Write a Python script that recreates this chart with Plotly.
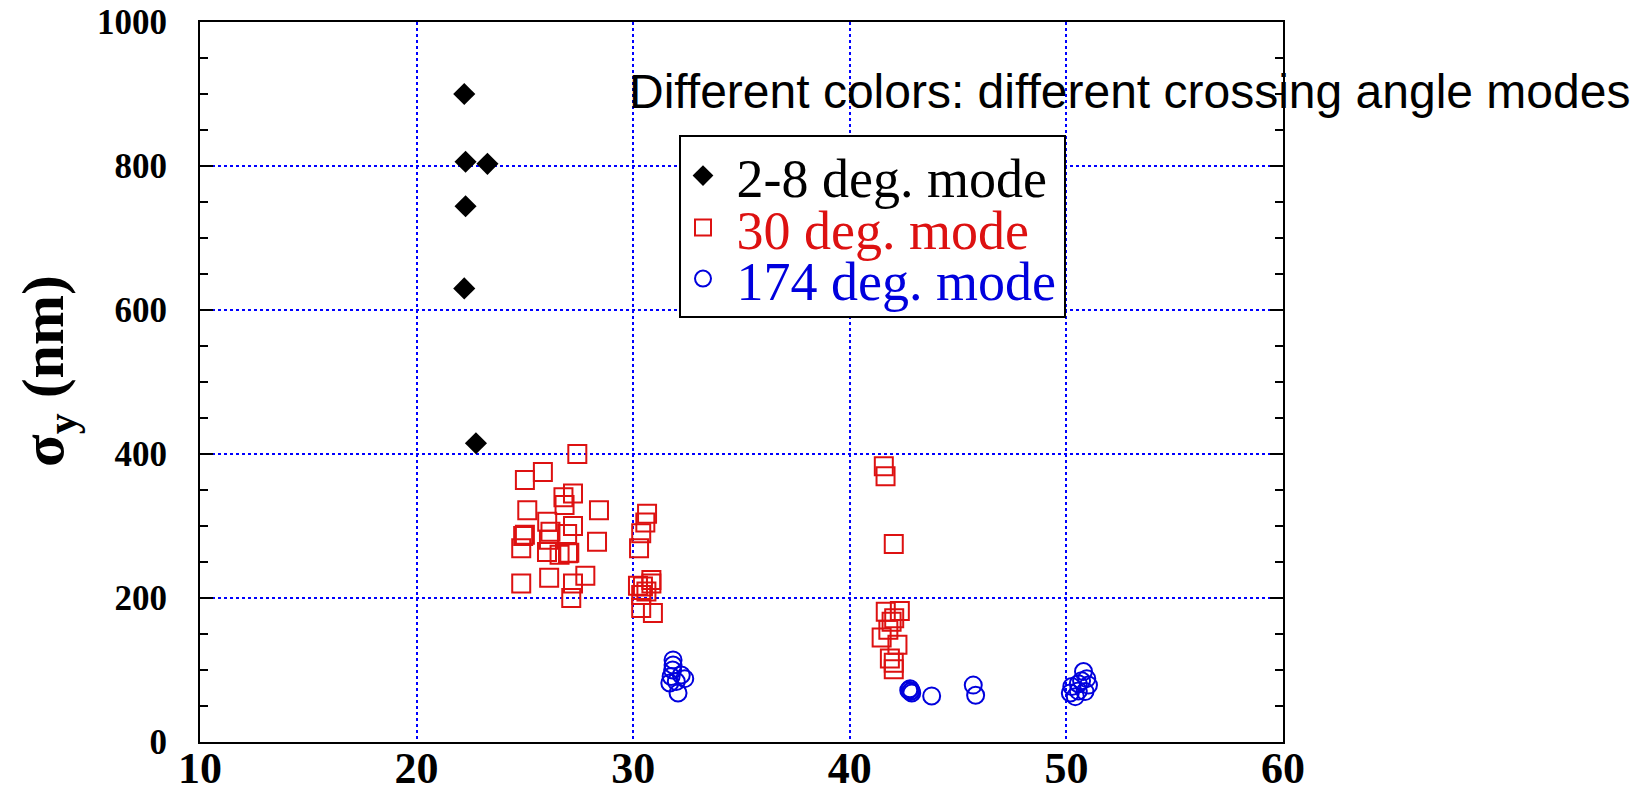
import plotly.graph_objects as go

# 2-8 degree crossing-angle mode
x_2_8 = [22.20, 22.26, 23.27, 22.26, 22.20, 22.74]
y_2_8 = [900, 806, 803, 744, 630, 415]

# 30 degree crossing-angle mode
x_30 = [27.42, 25.83, 25.00, 26.78, 27.22, 26.83, 25.11, 28.42, 26.03, 27.22,
        25.00, 24.92, 26.18, 26.95, 26.11, 28.33, 24.83, 26.02, 26.60, 26.99,
        27.05, 24.83, 26.12, 27.22, 27.79, 27.14,
        30.64, 30.56, 30.37, 30.27, 30.22, 30.84, 30.45, 30.61, 30.37, 30.91,
        30.37, 30.84,
        41.57, 41.65, 42.03, 41.66, 42.31, 42.05, 41.93, 41.78, 41.47, 42.20,
        41.85, 42.03, 42.03]
y_30 = [400, 375, 364, 340, 345, 329, 322, 322, 306, 300,
        288, 286, 292, 289, 281, 278, 269, 264, 260, 262,
        263, 220, 228, 220, 231, 200,
        317, 305, 290, 269, 217, 225, 216, 209, 186, 179,
        204, 220,
        383, 369, 275, 181, 182, 172, 167, 156, 145, 135,
        116, 110, 101]

# 174 degree crossing-angle mode
x_174 = [31.84, 31.84, 31.82, 31.75, 32.22, 31.99, 31.69, 32.07, 32.38,
         42.72, 42.80, 42.86, 42.78, 42.84, 43.78, 45.70, 45.81,
         50.79, 50.94, 51.02, 50.55, 50.25, 50.86, 50.18, 50.41, 50.55, 50.70]
y_174 = [114, 107, 100, 91, 93, 84, 82, 68, 88,
         72, 70, 68, 74, 71, 64, 79, 65,
         98, 88, 79, 81, 77, 70, 68, 63, 71, 85]

x_ticks = [10, 20, 30, 40, 50, 60]
y_ticks = [0, 200, 400, 600, 800, 1000]

W, H = 1646, 792
L, R, T, B = 200, 363, 22, 50
PW, PH = W - L - R, H - T - B


def px_x(p):
    return (p - L) / PW


def px_y(p):
    return (H - B - p) / PH


SERIF = "Liberation Serif"
SANS = "Liberation Sans"
RED = "#dd1111"
BLUE = "#0000dd"
NB = "\u00a0"

fig = go.Figure()
fig.add_trace(go.Scatter(
    x=x_2_8, y=y_2_8, mode="markers", name=NB + "2-8 deg. mode",
    marker=dict(symbol="diamond", size=17, color="black"),
    legend="legend"))
fig.add_trace(go.Scatter(
    x=x_30, y=y_30, mode="markers", name=NB + "30 deg. mode",
    marker=dict(symbol="square-open", size=18, color=RED, line=dict(width=2, color=RED)),
    legend="legend2"))
fig.add_trace(go.Scatter(
    x=x_174, y=y_174, mode="markers", name=NB + "174 deg. mode",
    marker=dict(symbol="circle-open", size=17, color=BLUE, line=dict(width=2, color=BLUE)),
    legend="legend3"))

grid = dict(showgrid=True, gridcolor="#0000ff", gridwidth=2, griddash="dot",
            zeroline=False, showline=True, linecolor="black", linewidth=2,
            automargin=False)

fig.update_xaxes(
    range=[10, 60], tickvals=x_ticks, ticktext=[str(v) for v in x_ticks],
    ticks="", mirror=True, ticklabelstandoff=-14,
    tickfont=dict(family=SERIF, size=44, color="black", weight="bold"),
    **grid)
fig.update_yaxes(
    range=[0, 1000], tickvals=y_ticks, ticktext=[str(v) for v in y_ticks],
    ticks="inside", ticklen=13, tickwidth=2, tickcolor="black", mirror="ticks",
    minor=dict(dtick=50, ticks="inside", ticklen=8, tickwidth=2, tickcolor="black", showgrid=False),
    ticklabelstandoff=24,
    tickfont=dict(family=SERIF, size=35, color="black", weight="bold"),
    **grid)

leg_common = dict(x=px_x(683), xanchor="left", yanchor="middle",
                  bgcolor="rgba(0,0,0,0)", borderwidth=0)
fig.update_layout(
    width=W, height=H,
    margin=dict(l=L, r=R, t=T, b=B, autoexpand=False),
    paper_bgcolor="white", plot_bgcolor="white",
    showlegend=True,
    legend=dict(y=px_y(176), font=dict(family=SERIF, size=54, color="black"), **leg_common),
    legend2=dict(y=px_y(228), font=dict(family=SERIF, size=54, color=RED), **leg_common),
    legend3=dict(y=px_y(279), font=dict(family=SERIF, size=54, color=BLUE), **leg_common),
    shapes=[dict(type="rect", xref="paper", yref="paper",
                 x0=px_x(680), x1=px_x(1065), y0=px_y(317), y1=px_y(136),
                 line=dict(color="black", width=2), fillcolor="white", layer="above")],
    annotations=[
        dict(text="Different colors: different crossing angle modes",
             xref="paper", yref="paper", x=px_x(627), y=px_y(92),
             xanchor="left", yanchor="middle", showarrow=False,
             font=dict(family=SANS, size=48, color="black")),
        dict(text="σ<sub>y</sub> (nm)", textangle=-90,
             xref="paper", yref="paper", x=px_x(47), y=px_y(371),
             xanchor="center", yanchor="middle", showarrow=False,
             font=dict(family=SERIF, size=60, color="black", weight="bold")),
    ],
)

fig.write_html("out.html")
